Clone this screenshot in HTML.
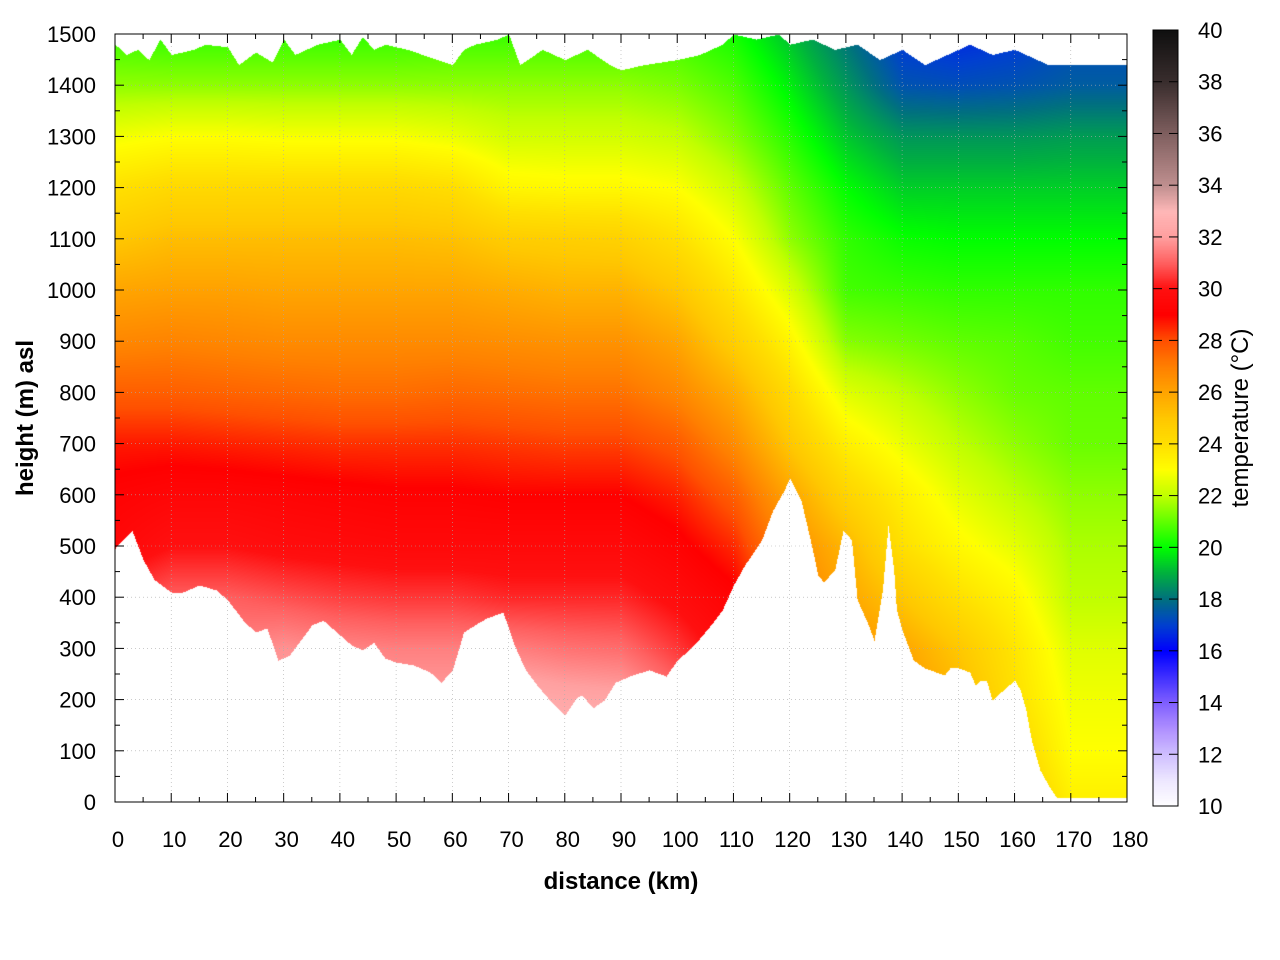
<!DOCTYPE html>
<html><head><meta charset="utf-8"><style>
body{margin:0;background:#fff;width:1280px;height:960px;overflow:hidden;font-family:"Liberation Sans",sans-serif}
#wrap{position:relative;width:1280px;height:960px}
canvas{position:absolute}
svg{position:absolute;left:0;top:0}
</style></head><body>
<div id="wrap">
<canvas id="heat" width="1012" height="768" style="left:115px;top:34px"></canvas>
<canvas id="cbar" width="25" height="776" style="left:1153px;top:30px"></canvas>
<svg id="ov" width="1280" height="960"></svg>
</div>
<script>
const distGrid=[0,10,20,30,40,50,60,70,80,90,100,110,120,130,140,150,160,170,180];
const heightGrid=[0,100,200,300,400,500,600,700,800,900,1000,1100,1200,1300,1400,1500];
const tempD0=[33,32.5,32,31.5,30.5,29.5,29.2,28.7,27.7,26.8,26,25,24,22.8,21.5,20.6];
const tempD10=[33,32.5,32,31.5,31,30,29.4,28.7,27.7,26.9,26.1,25.3,24.3,23,21.5,20.5];
const tempD20=[33,32.5,32,31.5,31,30,29.4,28.6,27.6,26.8,26.1,25.3,24.3,23,21.5,20.5];
const tempD30=[33,32.5,32,31.8,30.8,29.8,29.3,28.5,27.5,26.7,26,25.3,24.3,22.9,21.5,20.5];
const tempD40=[33,32.5,32,31.6,30.6,29.7,29.2,28.4,27.4,26.7,26,25.3,24.3,22.9,21.5,20.5];
const tempD50=[33,32.5,32,31.5,30.5,29.6,29.1,28.4,27.4,26.7,26,25.3,24.3,22.9,21.5,20.5];
const tempD60=[33,32.5,32,31.5,30.5,29.6,29.1,28.4,27.5,26.7,26,25.2,24.1,22.7,21.5,20.6];
const tempD70=[33.5,33,32.5,31.5,30.3,29.6,29,28.3,27.4,26.6,25.8,24.8,23.3,22.3,21.5,20.6];
const tempD80=[34,33,32.3,31.3,30.3,29.6,29,28.2,27.3,26.5,25.6,24.7,23.2,22.3,21.5,20.6];
const tempD90=[34,33,32.2,31.2,30.3,29.6,29,28.2,27.3,26.5,25.6,24.6,23.2,22.3,21.5,20.6];
const tempD100=[33,32,31.3,30.5,29.8,29.2,28.6,27.8,26.8,26,25,24,23,22.1,21.3,20.6];
const tempD110=[31,30.5,30,29.6,29.2,28.5,27.7,26.7,25.8,24.7,23.8,23,22.2,21.4,20.8,20.2];
const tempD120=[29,28.5,28,27.6,27.2,26.7,26,25,24.2,23.3,22.4,21.5,21,20.4,19.8,19.2];
const tempD130=[28,27.5,27,26.5,26,25.5,24.5,23.5,22.5,21.4,20.7,20.5,20,19.3,18.6,18];
const tempD140=[27.5,27,26.5,26,25,24,23.5,22.7,22,21.2,20.6,20.1,19.4,18.6,17.4,16.8];
const tempD150=[27,26,25.5,25,24,23.2,22.6,22,21.5,21,20.5,20,19.4,18.6,17.3,16.6];
const tempD160=[25,24.5,24,23.8,23.3,22.6,22,21.5,21.1,20.9,20.5,20,19.4,18.6,17.4,16.8];
const tempD170=[23.5,23,22.8,22.5,22,21.8,21.5,21.1,21,20.7,20.5,20,19.4,18.7,17.6,17.2];
const tempD180=[23.5,23,22.8,22.5,22,21.8,21.5,21.1,21,20.7,20.5,20,19.4,18.7,17.6,17.2];
const temps=[tempD0,tempD10,tempD20,tempD30,tempD40,tempD50,tempD60,tempD70,tempD80,tempD90,tempD100,tempD110,tempD120,tempD130,tempD140,tempD150,tempD160,tempD170,tempD180];
const terrainDist=[0,3,5,7,10,12,15,18,20,23,25,27,29,31,33,35,37,39,42,44,46,48,50,53,56,58,60,62,64,66,69,71,73,75,77,79,80,82,83,85,87,89,92,95,98,100,103,106,108,110,112,115,117,119,120,122,124,125,126,128,129.5,131,132,134,135,136.5,137.5,138.5,139,140,142,144,146,147.5,148.5,150,152,153,154,155,156,157,158,160,161,162,163,164.5,166,167.5,170,180];
const terrainH=[496,531,473,434,410,410,424,414,395,352,332,340,277,287,316,346,355,336,307,297,312,281,273,268,254,234,258,332,346,359,371,307,258,229,203,180,170,203,209,184,199,234,248,258,246,277,307,346,375,424,463,512,570,609,633,590,496,443,430,453,531,512,395,346,316,414,541,453,375,336,277,262,254,248,262,262,254,229,238,238,199,209,219,238,219,180,121,63,33,8,8,8];
const topDist=[0,2,4,6,8,10,14,16,20,22,25,28,30,32,36,40,42,44,46,48,52,56,60,62,64,68,70,72,76,80,84,88,90,94,100,104,108,110,114,118,120,124,128,132,136,140,144,148,152,156,160,164,166,168,170,180];
const topH=[1480,1460,1470,1450,1490,1460,1470,1480,1475,1440,1465,1445,1490,1460,1480,1490,1460,1495,1470,1480,1470,1455,1440,1470,1480,1490,1500,1440,1470,1450,1470,1440,1430,1440,1450,1460,1480,1500,1490,1500,1480,1490,1470,1480,1450,1470,1440,1460,1480,1460,1470,1450,1440,1440,1440,1440];
const xTicks=[0,10,20,30,40,50,60,70,80,90,100,110,120,130,140,150,160,170,180];
const yTicks=[0,100,200,300,400,500,600,700,800,900,1000,1100,1200,1300,1400,1500];
const cbTicks=[10,12,14,16,18,20,22,24,26,28,30,32,34,36,38,40];
const cmapT=[10,11,12,13,14,15,16,17,18,19,20,21,22,23,24,25,26,27,28,29,30,31,32,33,34,36,38,40];
const cmapC=['#ffffff','#eee8ff','#d0c0ff','#b090ff','#8060ff','#4030ff','#0000ff','#0040d0','#007080','#00b040','#00ff00','#60ff00','#c0ff00','#ffff00','#ffe000','#ffc800','#ffa500','#ff8000','#ff5000','#ff0000','#ff1010','#ff6060','#ffa0a0','#ffb8b8','#c09090','#806060','#3a2e2e','#101010'];

const X0=115,X1=1127,Y0=802,Y1=34;
const sx=d=>X0+(d-0)/180*(X1-X0);
const sy=h=>Y0-(h/1500)*(Y0-Y1);
function hex(c){return [parseInt(c.substr(1,2),16),parseInt(c.substr(3,2),16),parseInt(c.substr(5,2),16)];}
const cm=cmapC.map(hex);
function color(t){
  if(t<=cmapT[0])return cm[0];
  for(let i=1;i<cmapT.length;i++){if(t<=cmapT[i]){const f=(t-cmapT[i-1])/(cmapT[i]-cmapT[i-1]);const a=cm[i-1],b=cm[i];return [a[0]+(b[0]-a[0])*f,a[1]+(b[1]-a[1])*f,a[2]+(b[2]-a[2])*f];}}
  return cm[cm.length-1];
}
function interp1(xs,ys,x){
  if(x<=xs[0])return ys[0];
  for(let i=1;i<xs.length;i++)if(x<=xs[i]){const f=(x-xs[i-1])/(xs[i]-xs[i-1]);return ys[i-1]+(ys[i]-ys[i-1])*f;}
  return ys[ys.length-1];
}
function tempAt(d,h){
  let i=Math.min(distGrid.length-2,Math.floor(d/10));let fd=(d-distGrid[i])/10;
  let j=Math.min(heightGrid.length-2,Math.floor(h/100));let fh=(h-heightGrid[j])/100;
  const a=temps[i][j],b=temps[i][j+1],c=temps[i+1][j],e=temps[i+1][j+1];
  return (a*(1-fh)+b*fh)*(1-fd)+(c*(1-fh)+e*fh)*fd;
}
const hc=document.getElementById('heat'),hx=hc.getContext('2d');
const W=hc.width,H=hc.height,img=hx.createImageData(W,H);
for(let px=0;px<W;px++){
  const d=px/W*180;
  const g=interp1(terrainDist,terrainH,d), tp=interp1(topDist,topH,d);
  for(let py=0;py<H;py++){
    const h=(H-py)/H*1500;const k=(py*W+px)*4;
    if(h<g||h>tp){img.data[k]=255;img.data[k+1]=255;img.data[k+2]=255;img.data[k+3]=255;continue;}
    const c=color(tempAt(d,h));
    img.data[k]=c[0];img.data[k+1]=c[1];img.data[k+2]=c[2];img.data[k+3]=255;
  }
}
hx.putImageData(img,0,0);
const cc=document.getElementById('cbar'),cx=cc.getContext('2d');
for(let py=0;py<cc.height;py++){const t=40-py/cc.height*30;const c=color(t);cx.fillStyle=`rgb(${c[0]|0},${c[1]|0},${c[2]|0})`;cx.fillRect(0,py,25,1);}
const NS='http://www.w3.org/2000/svg',ov=document.getElementById('ov');
function el(t,a,txt){const e=document.createElementNS(NS,t);for(const k in a)e.setAttribute(k,a[k]);if(txt!==undefined)e.textContent=txt;ov.appendChild(e);return e;}
xTicks.forEach(v=>{const x=sx(v);
  const g=el('line',{x1:x,y1:Y1,x2:x,y2:Y0,stroke:'#aaa','stroke-width':0.6,'stroke-dasharray':'1,3'});
  
  el('line',{x1:x,y1:Y0,x2:x,y2:Y0-9,stroke:'#000'});el('line',{x1:x,y1:Y1,x2:x,y2:Y1+9,stroke:'#000'});
  const t=el('text',{x:x+3,y:847,'text-anchor':'middle','font-size':22,fill:'#000'},v);
  
});
for(let v=5;v<180;v+=10){const x=sx(v);el('line',{x1:x,y1:Y0,x2:x,y2:Y0-5,stroke:'#000'});el('line',{x1:x,y1:Y1,x2:x,y2:Y1+5,stroke:'#000'});}
yTicks.forEach(v=>{const y=sy(v);
  const g=el('line',{x1:X0,y1:y,x2:X1,y2:y,stroke:'#aaa','stroke-width':0.6,'stroke-dasharray':'1,3'});
  
  el('line',{x1:X0,y1:y,x2:X0+9,y2:y,stroke:'#000'});el('line',{x1:X1,y1:y,x2:X1-9,y2:y,stroke:'#000'});
  const t=el('text',{x:96,y:y+8,'text-anchor':'end','font-size':22,fill:'#000'},v);
  
});
for(let v=50;v<1500;v+=100){const y=sy(v);el('line',{x1:X0,y1:y,x2:X0+5,y2:y,stroke:'#000'});el('line',{x1:X1,y1:y,x2:X1-5,y2:y,stroke:'#000'});}
const fr=el('rect',{x:X0,y:Y1,width:X1-X0,height:Y0-Y1,fill:'none',stroke:'#000','stroke-width':1});

const cby=t=>806-(t-10)/30*776;
const cf=el('rect',{x:1153,y:30,width:25,height:776,fill:'none',stroke:'#000','stroke-width':1});

cbTicks.forEach(v=>{const y=cby(v);
  el('line',{x1:1153,y1:y,x2:1162,y2:y,stroke:'#000'});el('line',{x1:1178,y1:y,x2:1169,y2:y,stroke:'#000'});
  const t=el('text',{x:1198,y:y+8,'font-size':22,fill:'#000'},v);
  
});
const xl=el('text',{x:621,y:889,'text-anchor':'middle','font-size':24,'font-weight':'bold',fill:'#000'},'distance (km)');

const yl=el('text',{x:0,y:0,transform:'translate(33,418) rotate(-90)','text-anchor':'middle','font-size':24,'font-weight':'bold',fill:'#000'},'height (m) asl');

const cl=el('text',{x:0,y:0,transform:'translate(1248,418) rotate(-90)','text-anchor':'middle','font-size':24,fill:'#000'},'temperature (°C)');

</script>
</body></html>
